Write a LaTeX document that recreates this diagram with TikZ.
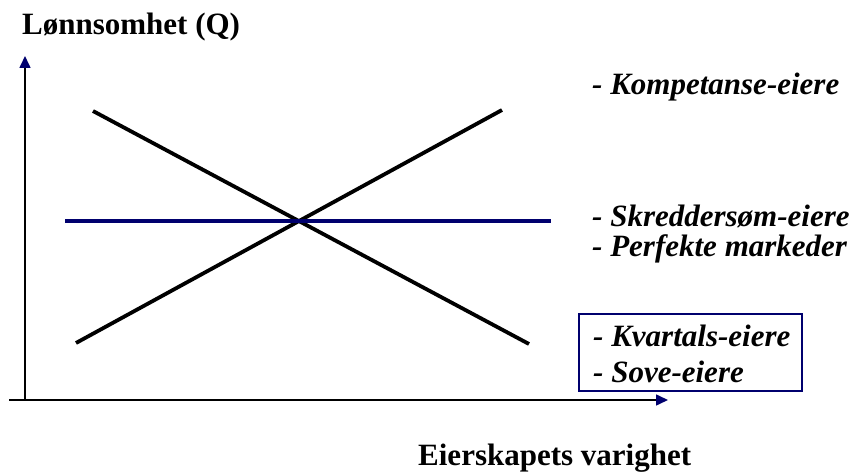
\documentclass[tikz,border=0pt]{standalone}
\usepackage{fontspec}
\setmainfont{Liberation Serif}
\usepackage{xcolor}
\usetikzlibrary{arrows.meta, positioning}
\definecolor{navyline}{RGB}{0,0,110}

\begin{document}
\begin{tikzpicture}[x=1pt, y=-1pt,
    axis/.style={line width=1.6pt, -{Triangle[length=12pt, width=11pt, color=navyline]}},
    curve/.style={line width=3.8pt},
    lbl/.style={anchor=base west, inner sep=0pt, font=\fontsize{31}{36}\selectfont\bfseries},
    itlbl/.style={lbl, font=\fontsize{31}{36}\selectfont\bfseries\itshape}]
  \useasboundingbox (0,0) rectangle (855,473);

  % axes
  \coordinate (ytop) at (25,56);
  \coordinate (xend) at (668,400);
  \coordinate (ybot) at (25,400);
  \coordinate (xstart) at (9,400);
  \draw[axis] (ybot) -- (ytop);
  \draw[axis] (xstart) -- (xend);

  % axis labels
  \node[lbl] (ylab) at (22,35) {Lønnsomhet (Q)};
  \node[lbl] (xlab) at (418,465) {Eierskapets varighet};

  % the three lines
  \coordinate (riseA) at (76,343);
  \coordinate (riseB) at (502,110);
  \coordinate (fallA) at (93,111);
  \coordinate (fallB) at (529,344);
  \coordinate (flatA) at (65,221);
  \coordinate (flatB) at (551,221);
  \draw[curve] (riseA) -- (riseB);
  \draw[curve] (fallA) -- (fallB);
  \draw[curve, navyline] (flatA) -- (flatB);

  % owner types
  \node[itlbl] (komp) at (592,95) {- Kompetanse-eiere};
  \node[itlbl] (skred) at (592,227) {- Skreddersøm-eiere};
  \node[itlbl] (perf) at (592,257) {- Perfekte markeder};
  \draw[navyline, line width=1.5pt] (579,314) rectangle (802,391);
  \node[itlbl] (kvart) at (593,347) {- Kvartals-eiere};
  \node[itlbl] (sove) at (593,382) {- Sove-eiere};
\end{tikzpicture}
\end{document}
